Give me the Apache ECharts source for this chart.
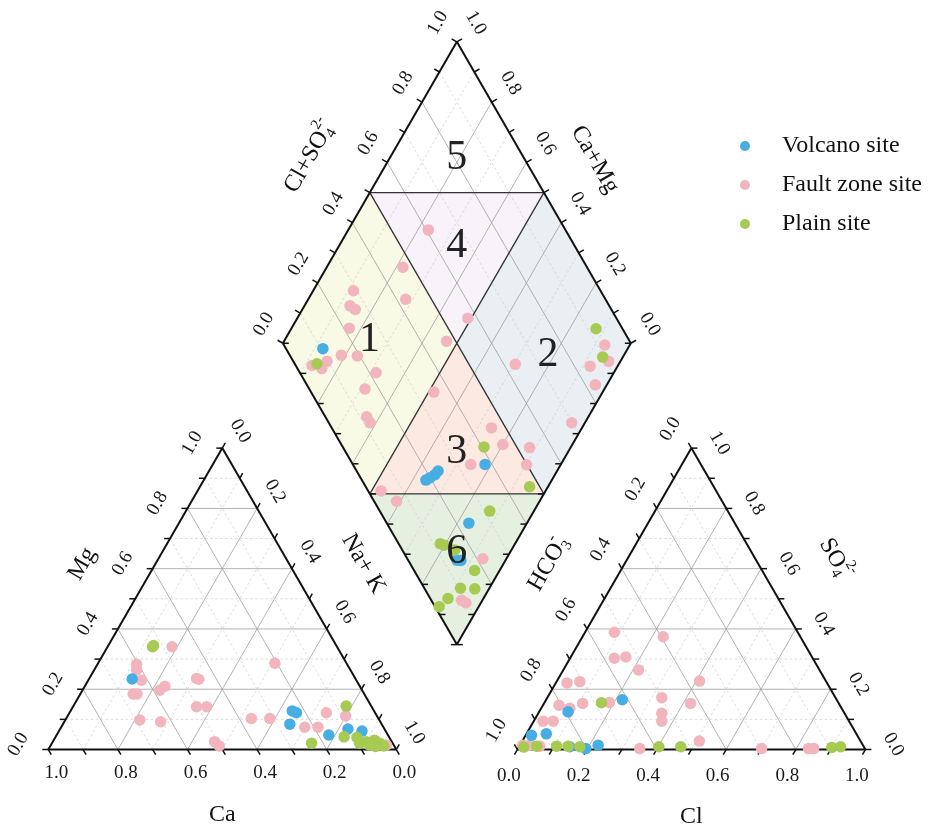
<!DOCTYPE html>
<html><head><meta charset="utf-8">
<script src="https://cdn.jsdelivr.net/npm/echarts@6/dist/echarts.min.js"></script>
<style>html,body{margin:0;padding:0;background:#fff}#c{width:935px;height:836px}</style>
</head><body><div id="c"></div>
<script>
// ================= DATA =================
const seriesNames = ['Volcano site', 'Fault zone site', 'Plain site'];
const tickValues = [0, 0.2, 0.4, 0.6, 0.8, 1.0];
const tickLabels = ['0.0', '0.2', '0.4', '0.6', '0.8', '1.0'];
const regionLabels = ['1', '2', '3', '4', '5', '6'];

// Cation triangle: [Ca, Mg]  (Na+K = 1 - Ca - Mg)
const cationVolcano = [[0.642,0.234],[0.235,0.128],[0.226,0.122],[0.264,0.084],[0.170,0.048],[0.105,0.068],[0.068,0.061]];
const cationFault = [[0.474,0.341],[0.605,0.283],[0.614,0.264],[0.617,0.230],[0.664,0.184],[0.653,0.184],[0.581,0.197],[0.560,0.210],[0.456,0.236],[0.451,0.233],[0.503,0.142],[0.474,0.142],[0.688,0.098],[0.631,0.092],[0.509,0.026],[0.503,0.012],[0.206,0.286],[0.365,0.103],[0.312,0.103],[0.226,0.074],[0.188,0.074],[0.140,0.122],[0.090,0.111],[0.021,0.015]];
const cationPlain = [[0.530,0.341],[0.525,0.345],[0.233,0.021],[0.072,0.144],[0.129,0.042],[0.093,0.040],[0.095,0.021],[0.073,0.026],[0.047,0.031],[0.037,0.021],[0.070,0.015],[0.030,0.012],[0.055,0.010]];

// Anion triangle: [Cl, SO4]  (HCO3 = 1 - Cl - SO4)
const anionVolcano = [[0.083,0.125],[0.219,0.165],[0.017,0.047],[0.057,0.052],[0.146,0.009],[0.195,0.003],[0.225,0.014]];
const anionFault = [[0.084,0.389],[0.232,0.374],[0.127,0.303],[0.158,0.307],[0.216,0.264],[0.032,0.221],[0.067,0.225],[0.410,0.227],[0.046,0.147],[0.082,0.137],[0.111,0.153],[0.186,0.156],[0.329,0.172],[0.421,0.153],[0.355,0.120],[0.368,0.094],[0.027,0.094],[0.056,0.094],[0.509,0.028],[0.008,0.014],[0.028,0.014],[0.059,0.011],[0.350,0.003],[0.700,0.003],[0.835,0.003],[0.850,0.003]];
const anionPlain = [[0.164,0.155],[0.014,0.008],[0.050,0.011],[0.107,0.011],[0.140,0.011],[0.175,0.009],[0.402,0.009],[0.465,0.009],[0.900,0.007],[0.924,0.009]];

// Diamond: [Cl+SO4, Ca+Mg]
const diamondVolcano = [[0.106,0.876],[0.380,0.218],[0.184,0.362],[0.200,0.354],[0.219,0.345],[0.234,0.342],[0.236,0.167],[0.151,0.128],[0.140,0.140]];
const diamondFault = [[0.606,0.770],[0.471,0.781],[0.290,0.884],[0.255,0.869],[0.264,0.848],[0.426,0.720],[0.216,0.834],[0.474,0.533],[0.047,0.879],[0.070,0.846],[0.097,0.843],[0.148,0.812],[0.193,0.765],[0.219,0.683],[0.160,0.688],[0.353,0.485],[0.119,0.637],[0.119,0.617],[0.573,0.510],[0.633,0.297],[0.922,0.072],[0.906,0.034],[0.845,0.079],[0.829,0.033],[0.698,0.038],[0.459,0.260],[0.464,0.200],[0.536,0.118],[0.499,0.098],[0.339,0.259],[0.037,0.473],[0.065,0.411],[0.217,0.068],[0.087,0.060],[0.095,0.043]];
const diamondPlain = [[0.064,0.868],[0.924,0.124],[0.896,0.058],[0.406,0.250],[0.471,0.053],[0.316,0.127],[0.120,0.215],[0.128,0.202],[0.174,0.072],[0.104,0.083],[0.144,0.041],[0.051,0.102],[0.012,0.114],[0.151,0.163]];

// ================= GEOMETRY / STYLE =================
const H = Math.sqrt(3) / 2, G = 0.348;
const UNIT = 348, X0 = 48.3, Y0 = 749.5, XMAX = 2 + G, YMAX = 2.1;
const FONT = '"Liberation Serif", "Times New Roman", serif';
const COLORS = ['#47AEE4', '#F3B5BD', '#A6CA52'];
const FILLS = {1: '#F8FAE5', 2: '#E9EFF3', 3: '#FCE9E1', 4: '#F8F2FA', 6: '#E5F0E1'};
const REGION_POS = {1: [0.254, 0.756], 2: [0.742, 0.218], 3: [0.32, 0.32], 4: [0.662, 0.662], 5: [0.808, 0.808], 6: [0.154, 0.154]};

const cat = (ca, mg) => [(1 - ca - mg) + mg / 2, mg * H];
const an = (cl, so4) => [1 + G + cl + so4 / 2, so4 * H];
const dm = (s, c) => [1 + G / 2 + 0.5 * (s - c), G * H + H * (s + c)];

const MAJOR = {stroke: '#999', lineWidth: 0.75};
const MINOR = {stroke: '#cccccc', lineWidth: 0.7, lineDash: [2.5, 2.5]};
const FRAME = {stroke: '#111', lineWidth: 2};
const DIV = {stroke: '#333', lineWidth: 1.3};
const TICK = {stroke: '#111', lineWidth: 1.5};
const TL = 6;

const measureCtx = document.createElement('canvas').getContext('2d');
function textW(t, fs) { measureCtx.font = fs + 'px ' + FONT; return measureCtx.measureText(t).width; }

function renderBg(params, api) {
  const ch = [];
  const C = p => api.coord(p);
  const seg = (a, b, style) => { const A = C(a), B = C(b); ch.push({type: 'line', shape: {x1: A[0], y1: A[1], x2: B[0], y2: B[1]}, style: style}); };
  const poly = (pts, fill) => ch.push({type: 'polygon', shape: {points: pts.map(C)}, style: {fill: fill}});
  const tick = (p, d) => { const A = C(p); ch.push({type: 'line', shape: {x1: A[0], y1: A[1], x2: A[0] + d[0] * TL, y2: A[1] + d[1] * TL}, style: TICK}); };
  const label = (p, off, rot, text) => { const A = C(p); ch.push({type: 'text', x: A[0] + off[0], y: A[1] + off[1], rotation: rot, style: {text: text, fontSize: 19, fontFamily: FONT, fill: '#1a1a1a', align: 'center', verticalAlign: 'middle'}}); };
  const title = (p, off, rot, parts) => {
    const A = C(p); let x = 0, lastStart = 0, maxX = 0; const kids = [];
    parts.forEach(pt => {
      const fs = pt.fs || 24;
      if (pt.stack) x = lastStart;
      lastStart = x;
      const w = textW(pt.t, fs);
      kids.push({type: 'text', style: {x: x, y: pt.dy || 0, text: pt.t, fontSize: fs, fontFamily: FONT, fill: '#111', align: 'left', verticalAlign: 'middle'}});
      x += w; maxX = Math.max(maxX, x);
    });
    kids.forEach(k => { k.style.x -= maxX / 2; });
    ch.push({type: 'group', x: A[0] + off[0], y: A[1] + off[1], rotation: rot, children: kids});
  };

  // region fills
  poly([dm(0, .5), dm(0, 1), dm(.5, 1), dm(.5, .5)], FILLS[1]);
  poly([dm(.5, 0), dm(1, 0), dm(1, .5), dm(.5, .5)], FILLS[2]);
  poly([dm(.5, .5), dm(0, .5), dm(.5, 0)], FILLS[3]);
  poly([dm(.5, 1), dm(1, .5), dm(.5, .5)], FILLS[4]);
  poly([dm(0, 0), dm(0, .5), dm(.5, 0)], FILLS[6]);

  // grid lines
  for (let i = 1; i < 10; i++) {
    const v = i / 10, st = (i % 2 === 0) ? MAJOR : MINOR;
    seg(cat(1 - v, v), cat(0, v), st); seg(cat(v, 0), cat(v, 1 - v), st); seg(cat(1 - v, 0), cat(0, 1 - v), st);
    seg(an(0, v), an(1 - v, v), st); seg(an(v, 0), an(v, 1 - v), st); seg(an(1 - v, 0), an(0, 1 - v), st);
    seg(dm(v, 0), dm(v, 1), st); seg(dm(0, v), dm(1, v), st);
  }
  // diamond division lines
  seg(dm(.5, 1), dm(1, .5), DIV); seg(dm(.5, 0), dm(.5, 1), DIV);
  seg(dm(0, .5), dm(1, .5), DIV); seg(dm(0, .5), dm(.5, 0), DIV);
  // frames
  seg(cat(1, 0), cat(0, 0), FRAME); seg(cat(1, 0), cat(0, 1), FRAME); seg(cat(0, 0), cat(0, 1), FRAME);
  seg(an(0, 0), an(1, 0), FRAME); seg(an(0, 0), an(0, 1), FRAME); seg(an(1, 0), an(0, 1), FRAME);
  seg(dm(0, 0), dm(0, 1), FRAME); seg(dm(0, 1), dm(1, 1), FRAME); seg(dm(1, 1), dm(1, 0), FRAME); seg(dm(1, 0), dm(0, 0), FRAME);

  // ticks
  const s3 = 0.866;
  for (let i = 0; i <= 10; i++) {
    const v = i / 10;
    tick(cat(v, 0), [0.5, s3]); tick(cat(1 - v, v), [-1, 0]); tick(cat(0, 1 - v), [0.5, -s3]);
    tick(an(v, 0), [-0.5, s3]); tick(an(0, 1 - v), [-0.5, -s3]); tick(an(1 - v, v), [1, 0]);
    tick(dm(v, 1), [-s3, -0.5]); tick(dm(1, v), [s3, -0.5]);
    tick(dm(0, v), [1, 0]); tick(dm(v, 0), [-1, 0]);
  }
  // tick labels
  const R60 = Math.PI / 3;
  tickValues.forEach((v, k) => {
    const t = tickLabels[k];
    label(cat(v, 0), [8, 24], 0, t);              // Ca
    label(cat(1 - v, v), [-30, -5], R60, t);       // Mg
    label(cat(0, 1 - v), [18, -17], -R60, t);      // Na+K
    label(an(v, 0), [-8.5, 27], 0, t);             // Cl
    label(an(0, 1 - v), [-21, -19], R60, t);       // HCO3
    label(an(1 - v, v), [28, -5], -R60, t);        // SO4
    label(dm(v, 1), [-19, -19], R60, t);           // Cl+SO4
    label(dm(1, v), [19, -19], -R60, t);           // Ca+Mg
  });

  // axis titles
  title(cat(0.5, 0), [0, 65], 0, [{t: 'Ca'}]);
  title(an(0.5, 0), [0, 67], 0, [{t: 'Cl'}]);
  title(cat(0.5, 0.5), [-53, -35], R60, [{t: 'Mg'}]);
  title(cat(0, 0.5), [54, -35], -R60, [{t: 'Na+ K'}]);
  title(an(0, 0.5), [-56, -35], R60, [{t: 'HCO'}, {t: '3', fs: 15, dy: 7}, {t: '-', fs: 16, dy: -10, stack: true}]);
  title(an(0.5, 0.5), [57, -40], -R60, [{t: 'SO'}, {t: '4', fs: 15, dy: 7}, {t: '2-', fs: 15, dy: -10, stack: true}]);
  title(dm(0.5, 1), [-60, -36], R60, [{t: 'Cl+SO'}, {t: '4', fs: 15, dy: 7}, {t: '2-', fs: 15, dy: -10, stack: true}]);
  title(dm(1, 0.5), [51, -33], -R60, [{t: 'Ca+Mg'}]);

  return {type: 'group', children: ch};
}

function renderRegions(params, api) {
  const ch = regionLabels.map(r => {
    const A = api.coord(dm(REGION_POS[r][0], REGION_POS[r][1]));
    return {type: 'text', x: A[0], y: A[1], style: {text: r, fontSize: 42, fontFamily: FONT, fill: '#222', align: 'center', verticalAlign: 'middle'}};
  });
  return {type: 'group', children: ch};
}

const groupData = [
  [cationVolcano, anionVolcano, diamondVolcano],
  [cationFault, anionFault, diamondFault],
  [cationPlain, anionPlain, diamondPlain]
];
const zOrder = [3, 2, 4];
const scatterSeries = groupData.map((g, i) => ({
  name: seriesNames[i], type: 'scatter', z: zOrder[i],
  symbol: 'circle', symbolSize: 11.5,
  itemStyle: {color: COLORS[i], opacity: 1},
  emphasis: {disabled: true}, silent: true,
  data: [...g[0].map(p => cat(p[0], p[1])), ...g[1].map(p => an(p[0], p[1])), ...g[2].map(p => dm(p[0], p[1]))]
}));

const chart = echarts.init(document.getElementById('c'), null, {renderer: 'canvas'});
chart.setOption({
  animation: false,
  backgroundColor: '#fff',
  grid: {left: X0, top: Y0 - YMAX * UNIT, width: XMAX * UNIT, height: YMAX * UNIT},
  xAxis: {type: 'value', min: 0, max: XMAX, show: false},
  yAxis: {type: 'value', min: 0, max: YMAX, show: false},
  legend: {
    data: seriesNames, orient: 'vertical', left: 735, top: 129,
    icon: 'circle', itemWidth: 10, itemHeight: 10, itemGap: 15, selectedMode: false,
    textStyle: {fontSize: 24, fontFamily: FONT, color: '#111', lineHeight: 24, padding: [0, 0, 0, 27]}
  },
  series: [
    {type: 'custom', coordinateSystem: 'cartesian2d', z: 1, silent: true, renderItem: renderBg, data: [[0, 0]]},
    ...scatterSeries,
    {type: 'custom', coordinateSystem: 'cartesian2d', z: 6, silent: true, renderItem: renderRegions, data: [[0, 0]]}
  ]
});
</script>
</body></html>
